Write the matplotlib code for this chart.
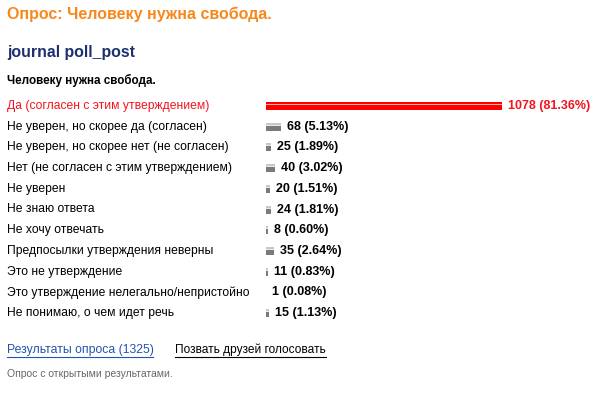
import matplotlib.pyplot as plt

answers = [
    "Да (согласен с этим утверждением)",
    "Не уверен, но скорее да (согласен)",
    "Не уверен, но скорее нет (не согласен)",
    "Нет (не согласен с этим утверждением)",
    "Не уверен",
    "Не знаю ответа",
    "Не хочу отвечать",
    "Предпосылки утверждения неверны",
    "Это не утверждение",
    "Это утверждение нелегально/непристойно",
    "Не понимаю, о чем идет речь",
]
votes = [1078, 68, 25, 40, 20, 24, 8, 35, 11, 1, 15]
percents = [81.36, 5.13, 1.89, 3.02, 1.51, 1.81, 0.60, 2.64, 0.83, 0.08, 1.13]
total = 1325

W, H = 599, 395
fig = plt.figure(figsize=(W / 100, H / 100), dpi=100)
plt.rcParams["font.family"] = ["Liberation Sans", "DejaVu Sans"]

ax = fig.add_axes([0, 0, 1, 1])
ax.set_xlim(0, W)
ax.set_ylim(H, 0)
ax.axis("off")

# bars axes: x in votes, y in pixels
bar_x0 = 266
px_per_vote = 236 / 1078
bx = fig.add_axes([bar_x0 / W, 0, (W - bar_x0) / W, 1])
bx.set_xlim(0, (W - bar_x0) / px_per_vote)
bx.set_ylim(H, 0)
bx.axis("off")

ax.text(7, 14, "Опрос: Человеку нужна свобода.", color="#f7891c", fontsize=11.5,
        fontweight="bold", va="center")
ax.text(7, 52, "journal poll_post", color="#1c2f6e", fontsize=11.4,
        fontweight="bold", va="center")
ax.text(7, 80, "Человеку нужна свобода.", color="black", fontsize=8.4,
        fontweight="bold", va="center")

row0 = 106
step = 20.7
top = votes.index(max(votes))
for i, (a, v, p) in enumerate(zip(answers, votes, percents)):
    y = row0 + i * step
    if i == top:
        tc = "#f5141e"
        cols = ["#ff0000", "#ffb0b0", "#ff0000"]
    else:
        tc = "black"
        cols = ["#c8c8c8", "#e8e8e8", "#7a7a7a"]
    ax.text(7, y, a, color=tc, fontsize=8.7, va="center")
    # bar drawn in three horizontal stripes
    bx.barh(y - 3.0, v, height=2, left=0, color=cols[0], linewidth=0)
    bx.barh(y - 1.5, v, height=1, left=0, color=cols[1], linewidth=0)
    bx.barh(y + 1.5, v, height=5, left=0, color=cols[2], linewidth=0)
    bx.text(v + 6 / px_per_vote, y, f"{v} ({p:.2f}%)", color=tc, fontsize=9,
            fontweight="bold", va="center")

link1 = f"Результаты опроса ({total})"
ax.text(7, 350, link1, color="#2255aa", fontsize=8.8, va="center")
ax.plot([7, 153], [357, 357], color="#2255aa", lw=0.8)
ax.text(175, 350, "Позвать друзей голосовать", color="black", fontsize=8.6, va="center")
ax.plot([175, 326], [357, 357], color="black", lw=0.8)
ax.text(7, 374, "Опрос с открытыми результатами.", color="#666666", fontsize=7.5,
        va="center")

fig.savefig("out.png", dpi=100)
